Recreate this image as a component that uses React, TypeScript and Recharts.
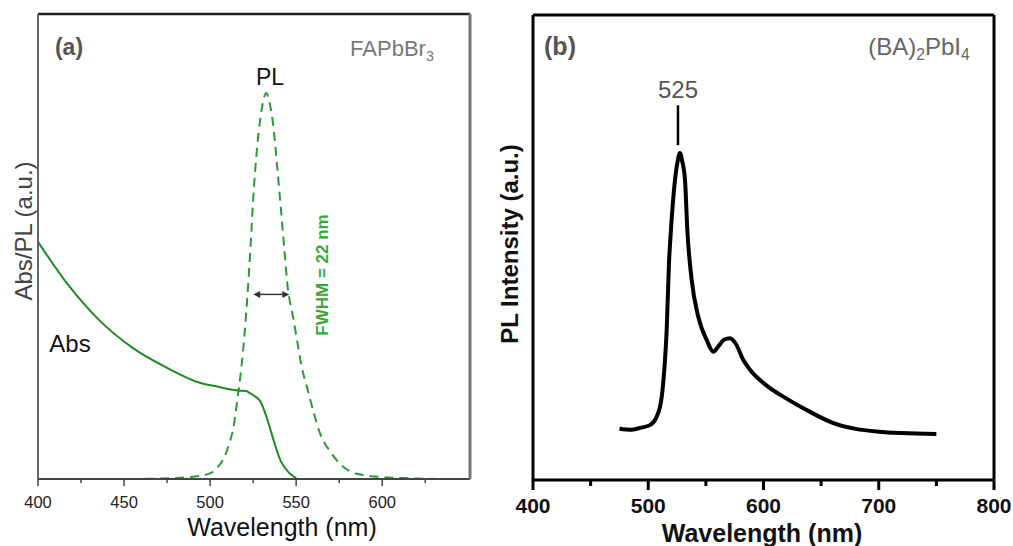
import { LineChart, Line, XAxis, YAxis, ReferenceLine } from 'recharts';

// panel (a): FAPbBr3 absorption + PL
const absWavelengths = [400, 417, 436, 455, 475, 494, 505, 513, 517, 521, 523, 526, 529, 533, 537, 541, 546, 550];
const absValues = [51.0, 42, 34, 28.2, 23.9, 20.7, 19.8, 19.2, 19.0, 18.9, 18.5, 17.8, 16.8, 13.1, 8.2, 3.9, 1.3, 0.2];

const plWavelengths = [410, 450, 480, 490, 500, 505, 508, 511, 513.5, 516, 519, 521.5, 523.5, 525, 527, 529, 531, 532.6, 534.5, 537, 539, 540.7, 543, 545.3, 547.5, 550.6, 553, 556.4, 560, 564, 570, 575.6, 581, 590, 600, 615, 632];
const plValues = [0, 0, 0.2, 0.5, 1.2, 2.8, 4.5, 7.5, 11, 17.5, 27, 38.4, 50, 60, 70, 77, 81.5, 83, 81, 75, 67, 60, 50, 40.5, 36.2, 29.7, 24.5, 19.6, 14.5, 9.7, 5.8, 3.2, 1.7, 0.8, 0.4, 0.15, 0];

const leftTicks = [400, 425, 450, 475, 500, 525, 550, 575, 600, 625];

// panel (b): (BA)2PbI4 PL
const pbiWavelengths = [475, 485, 493, 501.5, 507.3, 511.7, 514, 516, 518, 519.7, 523.2, 525.5, 527.5, 529.5, 531.9, 533.9, 537.7, 543.4, 550.7, 556.5, 561, 566, 571, 576, 582.5, 588.3, 602.8, 620, 640, 660, 680, 700, 720, 750];
const pbiValues = [11, 10.8, 11.2, 11.8, 13.6, 17.9, 24, 32.3, 46.7, 53.8, 64.5, 68.5, 70.3, 68.5, 64.5, 53.8, 43, 35.1, 30.1, 27.6, 28.8, 30.2, 30.5, 29.3, 25.8, 23.7, 20.3, 17.5, 14.7, 12.3, 11, 10.4, 10.1, 9.9];

const rightTicks = [400, 450, 500, 550, 600, 650, 700, 750, 800];

const absData = absWavelengths.map((x, i) => ({ x, y: absValues[i] }));
const plData = plWavelengths.map((x, i) => ({ x, y: plValues[i] }));
const pbiData = pbiWavelengths.map((x, i) => ({ x, y: pbiValues[i] }));

const FONT = '"Liberation Sans", Arial, sans-serif';

const LeftTick = ({ x, y, payload }: any) => {
  const major = payload.value % 50 === 0;
  return (
    <g>
      <line x1={x} x2={x} y1={y} y2={y + (major ? 7 : 4)} stroke="#444" strokeWidth={1.5} />
      {major && (
        <text x={x} y={y + 23} textAnchor="middle" dominantBaseline="central" fontFamily={FONT} fontSize={16.5} fill="#222">
          {payload.value}
        </text>
      )}
    </g>
  );
};

const RightTick = ({ x, y, payload }: any) => {
  const major = payload.value % 100 === 0;
  return (
    <g>
      <line x1={x} x2={x} y1={y} y2={y + (major ? 10 : 6)} stroke="#000" strokeWidth={3} />
      {major && (
        <text x={x} y={y + 25} textAnchor="middle" dominantBaseline="central" fontFamily={FONT} fontSize={21} fontWeight="bold" fill="#111">
          {payload.value}
        </text>
      )}
    </g>
  );
};

const ArrowShape = ({ x1, y1, x2, y2 }: any) => (
  <g>
    <line x1={x1 + 3} y1={y1} x2={x2 - 3} y2={y2} stroke="#333" strokeWidth={1.5} />
    <polygon points={`${x1},${y1} ${x1 + 7},${y1 - 3.5} ${x1 + 7},${y1 + 3.5}`} fill="#333" />
    <polygon points={`${x2},${y2} ${x2 - 7},${y2 - 3.5} ${x2 - 7},${y2 + 3.5}`} fill="#333" />
  </g>
);

const Txt = ({ x, y, size, color = '#111', bold = false, rotate = 0, children }: any) => (
  <div
    style={{
      position: 'absolute',
      left: x,
      top: y,
      transform: `translate(-50%, -50%) rotate(${rotate}deg)`,
      fontFamily: FONT,
      fontSize: size,
      fontWeight: bold ? 'bold' : 'normal',
      color,
      lineHeight: 1,
      whiteSpace: 'nowrap',
    }}
  >
    {children}
  </div>
);

const Sub = ({ children }: any) => (
  <span style={{ fontSize: '0.65em', position: 'relative', top: '0.35em' }}>{children}</span>
);

export default function App() {
  return (
    <div style={{ position: 'absolute', left: 0, top: 0, width: 1013, height: 546, background: '#fff', overflow: 'hidden' }}>
      <div style={{ position: 'absolute', left: 0, top: 0 }}>
        <LineChart width={480} height={546} margin={{ top: 13, left: 37, right: 9, bottom: 66 }}>
          <XAxis
            dataKey="x"
            type="number"
            domain={[400, 651]}
            ticks={leftTicks}
            interval={0}
            allowDataOverflow
            height={1}
            tickSize={0}
            tickMargin={0}
            tick={<LeftTick />}
            axisLine={{ stroke: '#444', strokeWidth: 2 }}
            tickLine={false}
          />
          <XAxis xAxisId="top" orientation="top" dataKey="x" type="number" domain={[400, 651]} height={1} tick={false} tickLine={false} axisLine={{ stroke: '#222', strokeWidth: 2.5 }} />
          <YAxis type="number" domain={[0, 100]} width={1} tick={false} tickLine={false} axisLine={{ stroke: '#666', strokeWidth: 2 }} />
          <YAxis yAxisId="right" orientation="right" type="number" domain={[0, 100]} width={1} tick={false} tickLine={false} axisLine={{ stroke: '#777', strokeWidth: 3 }} />
          <Line data={plData} dataKey="y" type="monotone" stroke="#2a9a38" strokeWidth={2} strokeDasharray="9 6" dot={false} isAnimationActive={false} />
          <Line data={absData} dataKey="y" type="monotone" stroke="#1e8b24" strokeWidth={2} dot={false} isAnimationActive={false} />
          <ReferenceLine segment={[{ x: 525, y: 39.7 }, { x: 546, y: 39.7 }]} shape={<ArrowShape />} />
        </LineChart>
      </div>

      <div style={{ position: 'absolute', left: 480, top: 0 }}>
        <LineChart width={533} height={546} margin={{ top: 14, left: 52, right: 18, bottom: 65 }}>
          <XAxis
            dataKey="x"
            type="number"
            domain={[400, 800]}
            ticks={rightTicks}
            interval={0}
            height={1}
            tickSize={0}
            tickMargin={0}
            tick={<RightTick />}
            axisLine={{ stroke: '#000', strokeWidth: 3 }}
            tickLine={false}
          />
          <XAxis xAxisId="top" orientation="top" dataKey="x" type="number" domain={[400, 800]} height={1} tick={false} tickLine={false} axisLine={{ stroke: '#000', strokeWidth: 3 }} />
          <YAxis type="number" domain={[0, 100]} width={1} tick={false} tickLine={false} axisLine={{ stroke: '#000', strokeWidth: 3 }} />
          <YAxis yAxisId="right" orientation="right" type="number" domain={[0, 100]} width={1} tick={false} tickLine={false} axisLine={{ stroke: '#000', strokeWidth: 3 }} />
          <Line data={pbiData} dataKey="y" type="monotone" stroke="#000" strokeWidth={4} dot={false} isAnimationActive={false} />
          <ReferenceLine segment={[{ x: 525.8, y: 72 }, { x: 525.8, y: 80.6 }]} stroke="#000" strokeWidth={2.5} />
        </LineChart>
      </div>

      {/* panel (a) text */}
      <Txt x={69} y={47} size={23} bold color="#555">(a)</Txt>
      <Txt x={392} y={49} size={22} color="#777">FAPbBr<Sub>3</Sub></Txt>
      <Txt x={270} y={77} size={23}>PL</Txt>
      <Txt x={70} y={344} size={24}>Abs</Txt>
      <Txt x={322} y={275} size={17} bold color="#35a835" rotate={-90}>FWHM = 22 nm</Txt>
      <Txt x={24} y={231} size={24} color="#444" rotate={-90}>Abs/PL (a.u.)</Txt>
      <Txt x={282} y={527} size={25}>Wavelength (nm)</Txt>

      {/* panel (b) text */}
      <Txt x={560} y={46} size={25} bold color="#555">(b)</Txt>
      <Txt x={919} y={47} size={24} color="#666">(BA)<Sub>2</Sub>PbI<Sub>4</Sub></Txt>
      <Txt x={678} y={90} size={24} color="#555">525</Txt>
      <Txt x={510} y={244} size={24} bold rotate={-90}>PL Intensity (a.u.)</Txt>
      <Txt x={762} y={533} size={25} bold>Wavelength (nm)</Txt>
    </div>
  );
}
